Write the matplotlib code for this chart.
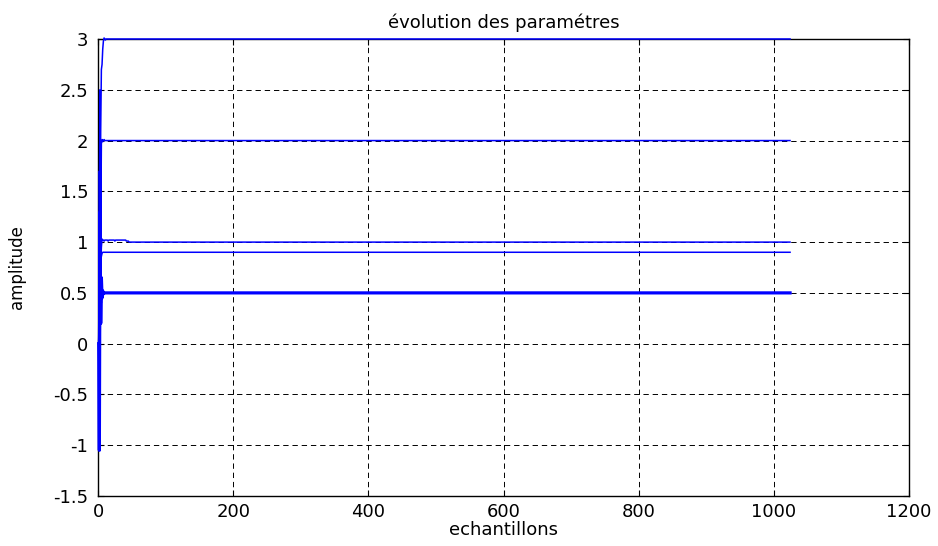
import numpy as np
import matplotlib
matplotlib.use("Agg")
import matplotlib.pyplot as plt

N_SAMPLES = 1024

# transient part of each estimated parameter, then its converged value
a_start = [0.0, 1.7, 1.1, 2.1, 2.7, 2.75, 2.9, 2.98, 3.01, 3.0, 2.99, 3.0]
a_final = 3.0
b_start = [0.0, 1.2, 2.5, 1.0, 1.97, 2.01, 1.99, 2.0, 2.01, 2.0]
b_final = 2.0
c_start = [0.0, -0.4, 1.4, 0.75, 0.95, 1.03, 1.02, 1.02, 1.01, 1.02,
           1.02, 1.02, 1.02, 1.02, 1.01, 1.02, 1.02, 1.02, 1.02, 1.02,
           1.02, 1.02, 1.02, 1.02, 1.01, 1.02, 1.02, 1.02, 1.02, 1.02,
           1.02, 1.02, 1.02, 1.02, 1.02, 1.02, 1.02, 1.02, 1.02, 1.02,
           1.02, 1.01, 1.01, 1.01, 1.01, 1.0]
c_final = 1.0
d_start = [0.0, 0.4, 0.75, 0.82, 0.86, 0.89, 0.9]
d_final = 0.9
e_start = [0.0, -1.05, 1.3, 0.2, 0.65, 0.45, 0.52, 0.49, 0.5]
e_final = 0.5
f_start = [0.0, 0.6, -0.2, 0.8, 0.4, 0.55, 0.51, 0.5]
f_final = 0.5

x_ticks = [0, 200, 400, 600, 800, 1000, 1200]
y_ticks = [-1.5, -1, -0.5, 0, 0.5, 1, 1.5, 2, 2.5, 3]


def build(start, final):
    return np.concatenate([start, np.full(N_SAMPLES - len(start), final)])


def main():
    plt.rcParams["font.family"] = "DejaVu Sans"
    fig = plt.figure(figsize=(9.38, 5.46), dpi=100)
    ax = fig.add_axes([98 / 938, 1 - 496 / 546, 811 / 938, 457 / 546])

    x = np.arange(1, N_SAMPLES + 1)
    series = [(a_start, a_final, 1.1), (b_start, b_final, 1.1),
              (c_start, c_final, 1.1), (d_start, d_final, 1.1),
              (e_start, e_final, 2.3), (f_start, f_final, 1.1)]
    for start, final, lw in series:
        ax.plot(x, build(start, final), color=(0, 0, 1), lw=lw,
                clip_on=False, zorder=3)

    ax.set_xlim(0, 1200)
    ax.set_ylim(-1.5, 3)
    ax.set_xticks(x_ticks)
    ax.set_yticks(y_ticks)
    ax.set_yticklabels([f"{v:g}" for v in y_ticks])
    ax.grid(True, color="black", linestyle=(0, (5.5, 4)), lw=0.7)
    ax.tick_params(direction="in", length=4, width=0.8, top=True,
                   right=True, labelsize=13)
    ax.tick_params(axis="y", pad=7)
    ax.tick_params(axis="x", pad=5)
    for sp in ax.spines.values():
        sp.set_linewidth(1.0)

    ax.set_title("évolution des paramétres", fontsize=13, pad=8)
    ax.set_xlabel("echantillons", fontsize=13)
    ax.set_ylabel("amplitude", fontsize=12)
    ax.xaxis.set_label_coords(0.5, -0.055)
    ax.yaxis.set_label_coords(-0.089, 0.5)

    fig.savefig("out.png", dpi=100)


if __name__ == "__main__":
    main()
